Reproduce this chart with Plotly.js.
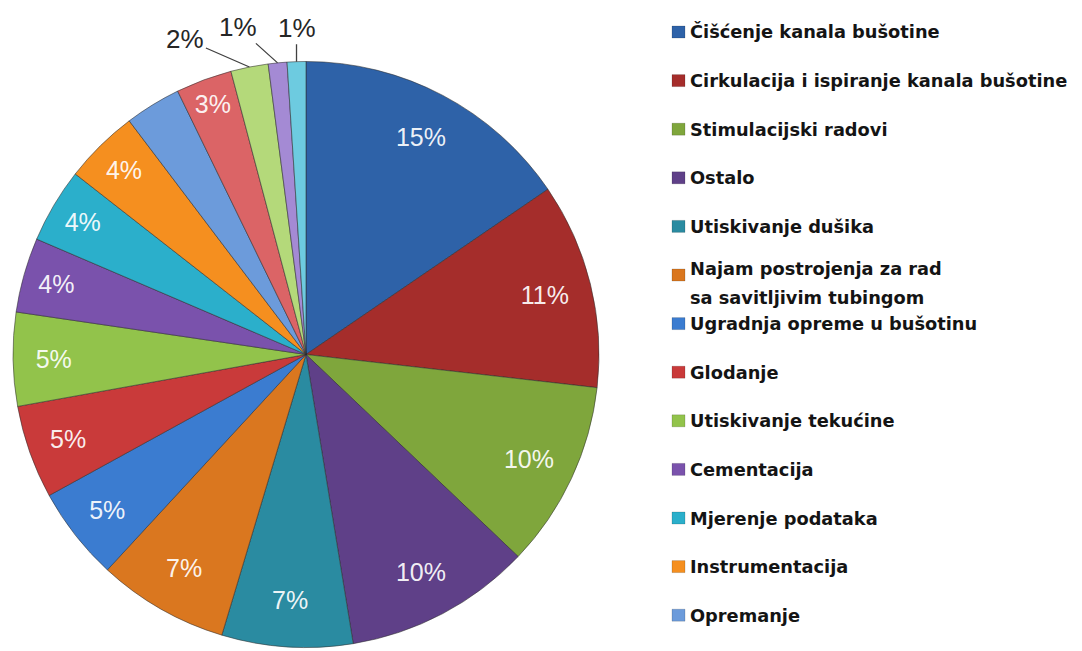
<!DOCTYPE html>
<html>
<head>
<meta charset="utf-8">
<script src="https://cdn.plot.ly/plotly-3.0.1.min.js"></script>
<style>
html,body{margin:0;padding:0;background:#ffffff;}
#chart{width:1082px;height:651px;}
</style>
</head>
<body>
<div id="chart"></div>
<script>
// ---- data ----
const categories = [
  "Čišćenje kanala bušotine",
  "Cirkulacija i ispiranje kanala bušotine",
  "Stimulacijski radovi",
  "Ostalo",
  "Utiskivanje dušika",
  "Najam postrojenja za rad<br>sa savitljivim tubingom",
  "Ugradnja opreme u bušotinu",
  "Glodanje",
  "Utiskivanje tekućine",
  "Cementacija",
  "Mjerenje podataka",
  "Instrumentacija",
  "Opremanje",
  "Neimenovano 1",
  "Neimenovano 2",
  "Neimenovano 3",
  "Neimenovano 4"
];
const values = [15, 11, 10, 10, 7, 7, 5, 5, 5, 4, 4, 4, 3, 3, 2, 1, 1];
const legendCount = 13;          // only the first 13 categories appear in the legend
const unlabeledSlices = [12];    // slice without a percentage label
const outsideLabelSlices = [14, 15, 16]; // labels drawn outside with leader lines

// ---- styles ----
const colors = [
  "#2E62A8", "#A52D2B", "#7FA63C", "#5F4088", "#2A8BA1", "#DA771F",
  "#3B7CD0", "#C93A3A", "#92C34B", "#7A52AC", "#2BAFCB", "#F58F1F",
  "#6C9BDB", "#DB6466", "#B4D97A", "#A48AD4", "#6DCBE0"
];
const W = 1082, H = 651;
const pieBox = {left: 13, right: 599, top: 61.5, bottom: 647.5};
const domain = {
  x: [pieBox.left / W, pieBox.right / W],
  y: [1 - pieBox.bottom / H, 1 - pieBox.top / H]
};

const sliceText = values.map((v, i) =>
  (unlabeledSlices.includes(i) || outsideLabelSlices.includes(i)) ? "" : v + "%");
const slicePos = values.map((v, i) =>
  (unlabeledSlices.includes(i) || outsideLabelSlices.includes(i)) ? "none" : "inside");

const pieFill = {
  type: "pie",
  values: values,
  labels: categories,
  sort: false,
  direction: "clockwise",
  rotation: 0,
  domain: domain,
  marker: {colors: colors, line: {color: "rgba(45,45,45,0.55)", width: 1}},
  textinfo: "none",
  hoverinfo: "label+percent",
  showlegend: false
};

const pieText = {
  type: "pie",
  values: values,
  labels: categories,
  sort: false,
  direction: "clockwise",
  rotation: 0,
  domain: domain,
  hole: 0.68,
  marker: {colors: values.map(() => "rgba(0,0,0,0)"), line: {width: 0}},
  text: sliceText,
  textinfo: "text",
  textposition: slicePos,
  insidetextorientation: "horizontal",
  insidetextfont: {family: "Liberation Sans, Arial, sans-serif", size: 25, color: "rgba(255,255,255,0.93)"},
  hoverinfo: "skip",
  showlegend: false
};

// ---- outside labels with leader lines (tip computed from the data) ----
const total = values.reduce((a, b) => a + b, 0);
const cx = (pieBox.left + pieBox.right) / 2;
const cy = (pieBox.top + pieBox.bottom) / 2;
const R = Math.min(pieBox.right - pieBox.left, pieBox.bottom - pieBox.top) / 2;
const labelOffsets = {14: [-64, -28], 15: [-40, -36], 16: [0, -34]};
const annotations = [];
let cum = 0;
values.forEach((v, i) => {
  const mid = (cum + v / 2) / total * 2 * Math.PI;
  cum += v;
  if (outsideLabelSlices.includes(i)) {
    const px = cx + R * Math.sin(mid);
    const py = cy - R * Math.cos(mid);
    annotations.push({
      xref: "paper", yref: "paper",
      x: px / W, y: 1 - py / H,
      text: v + "%",
      showarrow: true, arrowhead: 0, arrowwidth: 1.3, arrowcolor: "#404040",
      standoff: 0,
      ax: labelOffsets[i][0], ay: labelOffsets[i][1],
      font: {family: "Liberation Sans, Arial, sans-serif", size: 26, color: "#262626"}
    });
  }
});

// ---- custom legend ----
const shapes = [];
const legTop = 32, legStep = 48.6, legMarkX = 672, legTextX = 688, lineGap = 29;
for (let i = 0; i < legendCount; i++) {
  const yc = legTop + legStep * i;
  shapes.push({
    type: "rect", xref: "paper", yref: "paper",
    x0: legMarkX / W, x1: (legMarkX + 13) / W,
    y0: 1 - (yc + 6) / H, y1: 1 - (yc - 6) / H,
    fillcolor: colors[i], line: {width: 0.6, color: "rgba(0,0,0,0.25)"}
  });
  const lines = categories[i].split("<br>");
  const startY = lines.length > 1 ? yc - 6 : yc;
  lines.forEach((ln, k) => {
    annotations.push({
      xref: "paper", yref: "paper",
      x: legTextX / W, y: 1 - (startY + k * lineGap) / H,
      xanchor: "left", yanchor: "middle",
      text: ln, showarrow: false,
      font: {family: "'DejaVu Sans', sans-serif", size: 17.8, color: "#141414", weight: "bold"}
    });
  });
}

const layout = {
  width: W, height: H,
  margin: {l: 0, r: 0, t: 0, b: 0},
  paper_bgcolor: "#ffffff",
  plot_bgcolor: "#ffffff",
  showlegend: false,
  annotations: annotations,
  shapes: shapes
};

Plotly.newPlot("chart", [pieFill, pieText], layout, {displayModeBar: false});
</script>
</body>
</html>
